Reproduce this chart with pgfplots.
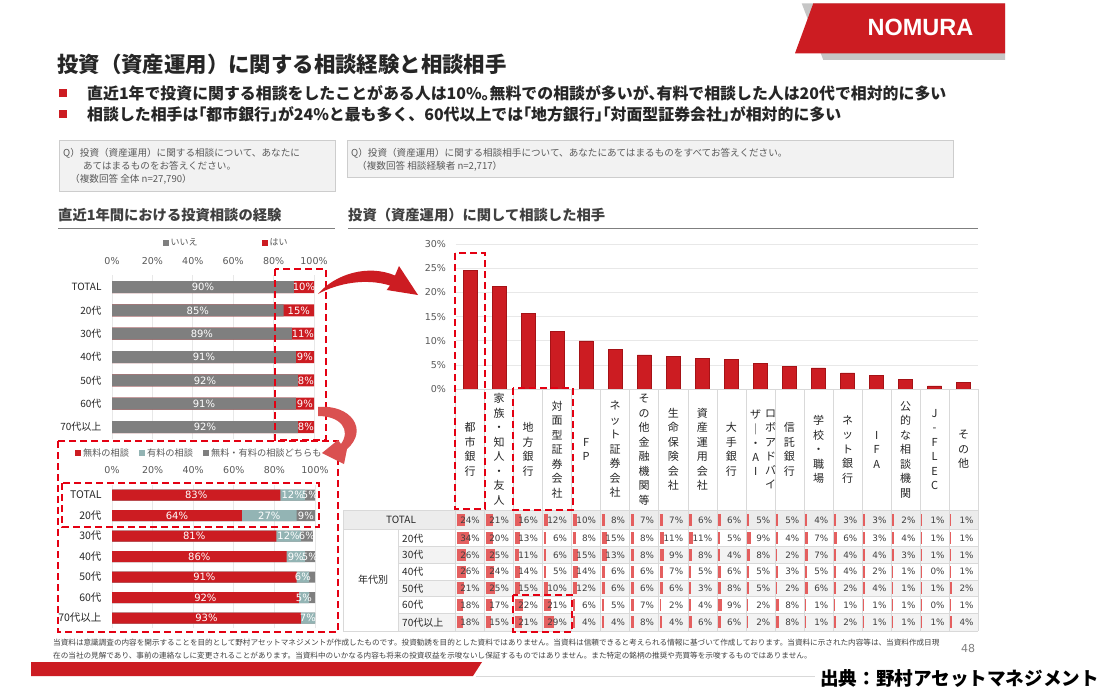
\documentclass[border=0pt]{standalone}
\usepackage{fontspec}
\setmainfont{Noto Sans CJK JP}
\newfontfamily\numfont{DejaVu Sans}
\newfontfamily\logofont{Liberation Sans}
\usepackage{pgfplots}
\pgfplotsset{compat=1.18}
\usepackage{pgfplotstable}

\definecolor{nred}{RGB}{204,28,34}
\definecolor{nredd}{RGB}{165,18,22}
\definecolor{ngray}{RGB}{127,127,127}
\definecolor{nteal}{RGB}{147,180,180}
\definecolor{txt}{RGB}{38,38,38}
\definecolor{txtg}{RGB}{89,89,89}
\definecolor{txth}{RGB}{64,64,64}
\definecolor{gridc}{RGB}{217,217,217}
\definecolor{gridl}{RGB}{232,232,232}
\definecolor{qbox}{RGB}{242,242,242}
\definecolor{qedge}{RGB}{205,205,205}
\definecolor{dashr}{RGB}{228,0,18}
\definecolor{cellbar}{RGB}{228,95,95}
\definecolor{band}{RGB}{243,243,243}
\definecolor{bandt}{RGB}{236,236,236}
\definecolor{arr2}{RGB}{218,80,80}

\newcommand\fs[2]{\fontsize{#1}{#2}\selectfont}
\newcommand\hw[1]{{\addfontfeatures{RawFeature=+halt}#1}}

% experience of consultation (いいえ / はい)
\pgfplotstableread{
iie hai
90 10
85 15
89 11
91 9
92 8
91 9
92 8
}\expdata

% free / paid / both
\pgfplotstableread{
free paid both
83 12 5
64 27 9
81 12 6
86 9 5
91 6 3
92 5 3
93 7 0
}\feedata

% consultation partner: bar value and table values
\pgfplotstableread{
val total a20 a30 a40 a50 a60 a70
24.5 24 34 26 26 21 18 18
21.3 21 20 25 24 25 17 15
15.6 16 13 11 14 15 22 21
11.9 12 6 6 5 10 21 29
10.0 10 8 15 14 12 6 4
8.3 8 15 13 6 6 5 4
7.1 7 8 8 6 6 7 8
6.8 7 11 9 7 6 2 4
6.4 6 11 8 5 3 4 6
6.2 6 5 4 6 8 9 6
5.4 5 9 8 5 5 2 2
4.7 5 4 2 3 2 8 8
4.4 4 7 7 5 6 1 1
3.4 3 6 4 4 2 1 2
2.8 3 3 4 2 4 1 1
2.1 2 4 3 1 1 1 1
0.7 1 1 1 0 1 0 1
1.4 1 1 1 1 2 1 4
}\contab

\newcommand\tabrow[2]{%
  \addplot[quiver={u=\thisrow{#1}*0.0114+0.028, v=0}, draw=cellbar, line width=12pt, mark=none]
    table[x expr=\coordindex-0.465, y expr=#2]{\contab};
  \addplot[only marks, mark=none, point meta=\thisrow{#1},
    nodes near coords={\pgfmathprintnumber{\pgfplotspointmeta}\%},
    every node near coord/.append style={anchor=east, inner sep=0pt, text=txth, font=\numfont\fs{8.8}{10}}]
    table[x expr=\coordindex+0.345, y expr=#2]{\contab};
}

\newcommand\cl[2]{\node[align=center, inner sep=0pt, font=\fs{11}{14.5}, text=txt] at (#1,-449.5) {#2};}

\begin{document}
\begin{tikzpicture}[x=1pt,y=1pt]
\fill[white] (0,0) rectangle (1097,-695);
\useasboundingbox (0,0) rectangle (1097,-695);

% ---------- logo ----------
\fill[gray!45] (801.7,-3.3) -- (1005,-3.3) -- (1005,-60) -- (823.3,-60) -- cycle;
\fill[nred] (813.3,-3.3) -- (1005,-3.3) -- (1005,-53.3) -- (795,-53.3) -- cycle;
\node[font=\logofont\bfseries\fs{23.5}{24}, text=white, inner sep=0pt] at (920.5,-27) {NOMURA};

% ---------- title and bullets ----------
\node[anchor=west, inner sep=0pt, font=\bfseries\fs{21.4}{24}, text=txt] at (57,-64) {投資（資産運用）に関する相談経験と相談相手};
\fill[nred] (59,-89.5) rectangle (67,-97.5);
\node[anchor=west, inner sep=0pt, font=\bfseries\fs{15.9}{18}, text=txt] at (87,-93.5) {直近1年で投資に関する相談をしたことがある人は10\%\hw{。}無料での相談が多いが\hw{、}有料で相談した人は20代で相対的に多い};
\fill[nred] (59,-110.5) rectangle (67,-118.5);
\node[anchor=west, inner sep=0pt, font=\bfseries\fs{15.9}{18}, text=txt] at (87,-114.5) {相談した相手は\hw{「}都市銀行\hw{」}が24\%と最も多く、60代以上では\hw{「}地方銀行\hw{」「}対面型証券会社\hw{」}が相対的に多い};

% ---------- question boxes ----------
\filldraw[fill=qbox, draw=qedge, line width=0.8pt] (59,-140) rectangle (335,-191);
\node[anchor=west, inner sep=0pt, font=\fs{9.6}{11}, text=txtg] at (63,-153) {Q）投資（資産運用）に関する相談について、あなたに};
\node[anchor=west, inner sep=0pt, font=\fs{9.6}{11}, text=txtg] at (83,-166) {あてはまるものをお答えください。};
\node[anchor=west, inner sep=0pt, font=\fs{9.6}{11}, text=txtg] at (70,-179) {（複数回答 全体 n=27,790）};
\filldraw[fill=qbox, draw=qedge, line width=0.8pt] (347,-140) rectangle (953,-177);
\node[anchor=west, inner sep=0pt, font=\fs{9.6}{11}, text=txtg] at (351,-153) {Q）投資（資産運用）に関する相談相手について、あなたにあてはまるものをすべてお答えください。};
\node[anchor=west, inner sep=0pt, font=\fs{9.6}{11}, text=txtg] at (357,-166) {（複数回答 相談経験者 n=2,717）};

% ---------- section headers ----------
\node[anchor=west, inner sep=0pt, font=\bfseries\fs{14.3}{16}, text=txth] at (58,-215) {直近1年間における投資相談の経験};
\draw[ngray, line width=1.8pt] (58,-228.5) -- (335,-228.5);
\node[anchor=west, inner sep=0pt, font=\bfseries\fs{14.3}{16}, text=txth] at (348,-215) {投資（資産運用）に関して相談した相手};
\draw[ngray, line width=1.8pt] (348,-228.5) -- (978,-228.5);

% ---------- chart 1 ----------
\begin{axis}[
  at={(112pt,-438.7pt)}, anchor=south west, scale only axis,
  width=202pt, height=163.3pt,
  xmin=0, xmax=100, ymin=-0.5, ymax=6.5,
  xtick={0,20,...,100}, xticklabel pos=upper,
  xticklabel={\pgfmathprintnumber{\tick}\%},
  xticklabel style={font=\numfont\fs{9.5}{11}, text=txtg, yshift=7pt},
  ytick={0,...,6}, yticklabels={70代以上,60代,50代,40代,30代,20代,TOTAL},
  yticklabel style={font=\fs{10}{12}, text=txt, xshift=-7pt},
  /pgf/number format/assume math mode=true,
  xmajorgrids, grid style={gridl, line width=0.8pt},
  axis line style={draw=none}, major tick length=0pt,
  clip=false, reverse legend, legend columns=2,
  legend style={at={(0.565,1.198)}, anchor=center, draw=none, fill=none,
    font=\fs{9}{10}, text=txtg, /tikz/every even column/.append style={column sep=62pt}},
  legend image code/.code={\fill[#1] (0pt,-3pt) rectangle (6pt,3pt);},
]
\addplot[xbar, bar shift=0pt, bar width=12pt, fill=nred, draw=none]
  table[x expr=\thisrow{iie}+\thisrow{hai}, y expr=6-\coordindex]{\expdata};
\addlegendentry{はい}
\addplot[xbar, bar shift=0pt, bar width=12pt, fill=ngray, draw=none]
  table[x=iie, y expr=6-\coordindex]{\expdata};
\addlegendentry{いいえ}
\addplot[forget plot, only marks, mark=none, point meta=\thisrow{iie},
  nodes near coords={\pgfmathprintnumber{\pgfplotspointmeta}\%},
  every node near coord/.append style={anchor=center, inner sep=0pt, text=white, font=\numfont\fs{10}{11}}]
  table[x expr=\thisrow{iie}/2, y expr=6-\coordindex]{\expdata};
\addplot[forget plot, only marks, mark=none, point meta=\thisrow{hai},
  nodes near coords={\pgfmathprintnumber{\pgfplotspointmeta}\%},
  every node near coord/.append style={anchor=center, inner sep=0pt, text=white, font=\numfont\fs{10}{11}}]
  table[x expr=\thisrow{iie}+\thisrow{hai}/2, y expr=6-\coordindex]{\expdata};
\end{axis}

% ---------- chart 2 ----------
\begin{axis}[
  at={(112pt,-628.25pt)}, anchor=south west, scale only axis,
  width=203pt, height=143.5pt,
  xmin=0, xmax=100, ymin=-0.5, ymax=6.5,
  xtick={0,20,...,100}, xticklabel pos=upper,
  xticklabel={\pgfmathprintnumber{\tick}\%},
  xticklabel style={font=\numfont\fs{9.5}{11}, text=txtg, yshift=8pt},
  ytick={0,...,6}, yticklabels={70代以上,60代,50代,40代,30代,20代,TOTAL},
  yticklabel style={font=\fs{10.5}{12}, text=txt, xshift=-7pt},
  /pgf/number format/assume math mode=true,
  xmajorgrids, grid style={gridl, line width=0.8pt},
  axis line style={draw=none}, major tick length=0pt,
  clip=false, reverse legend, legend columns=3,
  legend style={at={(0.43,1.221)}, anchor=center, draw=none, fill=none,
    font=\fs{9.2}{10}, text=txtg, /tikz/every even column/.append style={column sep=8pt}},
  legend image code/.code={\fill[#1] (0pt,-3pt) rectangle (6pt,3pt);},
]
\addplot[xbar, bar shift=0pt, bar width=11pt, fill=ngray, draw=none]
  table[x expr=\thisrow{free}+\thisrow{paid}+\thisrow{both}, y expr=6-\coordindex]{\feedata};
\addlegendentry{無料・有料の相談どちらも}
\addplot[xbar, bar shift=0pt, bar width=11pt, fill=nteal, draw=none]
  table[x expr=\thisrow{free}+\thisrow{paid}, y expr=6-\coordindex]{\feedata};
\addlegendentry{有料の相談}
\addplot[xbar, bar shift=0pt, bar width=11pt, fill=nred, draw=none]
  table[x=free, y expr=6-\coordindex]{\feedata};
\addlegendentry{無料の相談}
\addplot[forget plot, only marks, mark=none, point meta=\thisrow{free},
  nodes near coords={\pgfmathprintnumber{\pgfplotspointmeta}\%},
  every node near coord/.append style={anchor=center, inner sep=0pt, text=white, font=\numfont\fs{10}{11}}]
  table[x expr=\thisrow{free}/2, y expr=6-\coordindex]{\feedata};
\addplot[forget plot, only marks, mark=none, point meta=\thisrow{paid},
  nodes near coords={\pgfmathprintnumber{\pgfplotspointmeta}\%},
  every node near coord/.append style={anchor=center, inner sep=0pt, text=white, font=\numfont\fs{10}{11}}]
  table[x expr=\thisrow{free}+\thisrow{paid}/2, y expr=6-\coordindex]{\feedata};
\addplot[forget plot, only marks, mark=none, point meta=\thisrow{both}, skip coords between index={4}{7},
  nodes near coords={\pgfmathprintnumber{\pgfplotspointmeta}\%},
  every node near coord/.append style={anchor=center, inner sep=0pt, text=white, font=\numfont\fs{10}{11}}]
  table[x expr=\thisrow{free}+\thisrow{paid}+\thisrow{both}/2, y expr=6-\coordindex]{\feedata};
\end{axis}

% ---------- column chart ----------
\begin{axis}[
  at={(455.5pt,-389.3pt)}, anchor=south west, scale only axis,
  width=522.7pt, height=145.3pt,
  xmin=-0.5, xmax=17.5, ymin=0, ymax=30,
  ytick={0,5,...,30},
  yticklabel={\pgfmathprintnumber{\tick}\%},
  yticklabel style={font=\numfont\fs{9.5}{11}, text=txtg, xshift=-6pt},
  /pgf/number format/assume math mode=true,
  xtick=\empty,
  ymajorgrids, grid style={gridl, line width=0.9pt},
  axis line style={draw=none}, major tick length=0pt,
  clip=false,
]
\addplot[ybar, bar shift=0pt, bar width=14pt, fill=nred, draw=nredd, line width=0.5pt]
  table[x expr=\coordindex, y=val]{\contab};
\end{axis}

% ---------- table frame ----------
\fill[bandt] (343,-510.5) rectangle (978.2,-529.5);
\fill[band] (398,-546.5) rectangle (978.2,-563.3);
\fill[band] (398,-580) rectangle (978.2,-596.7);
\fill[band] (398,-613.5) rectangle (978.2,-631);
\foreach \k in {0,...,18} \draw[gridc, line width=0.6pt] ({455.5+29.04*\k},-389.3) -- ({455.5+29.04*\k},-631);
\draw[gridc, line width=0.6pt] (455.5,-389.3) -- (978.2,-389.3);
\foreach \yy in {510.5,529.5,631} \draw[gridc, line width=0.6pt] (343,-\yy) -- (978.2,-\yy);
\foreach \yy in {546.5,563.3,580,596.7,613.5} \draw[gridc, line width=0.6pt] (398,-\yy) -- (978.2,-\yy);
\draw[gridc, line width=0.6pt] (343,-510.5) -- (343,-631);
\draw[gridc, line width=0.6pt] (398,-529.5) -- (398,-631);

\node[font=\fs{10}{12}, text=txt, inner sep=0pt] at (401,-520) {TOTAL};
\node[font=\fs{10}{12}, text=txt, inner sep=0pt] at (373,-580) {年代別};
\node[anchor=west, font=\fs{10}{12}, text=txt, inner sep=0pt] at (402,-538.3) {20代};
\node[anchor=west, font=\fs{10}{12}, text=txt, inner sep=0pt] at (402,-555) {30代};
\node[anchor=west, font=\fs{10}{12}, text=txt, inner sep=0pt] at (402,-571.7) {40代};
\node[anchor=west, font=\fs{10}{12}, text=txt, inner sep=0pt] at (402,-588.3) {50代};
\node[anchor=west, font=\fs{10}{12}, text=txt, inner sep=0pt] at (402,-605) {60代};
\node[anchor=west, font=\fs{10}{12}, text=txt, inner sep=0pt] at (402,-622.3) {70代以上};

% category labels (vertical)
\cl{470.0}{都\\市\\銀\\行}
\cl{499.0}{家\\族\\・\\知\\人\\・\\友\\人}
\cl{528.1}{地\\方\\銀\\行}
\cl{557.1}{対\\面\\型\\証\\券\\会\\社}
\cl{586.2}{F\\P}
\cl{615.2}{ネ\\ッ\\ト\\証\\券\\会\\社}
\cl{644.2}{そ\\の\\他\\金\\融\\機\\関\\等}
\cl{673.3}{生\\命\\保\\険\\会\\社}
\cl{702.3}{資\\産\\運\\用\\会\\社}
\cl{731.4}{大\\手\\銀\\行}
\node[anchor=north, align=center, inner sep=0pt, font=\fs{11}{14.2}, text=txt] at (770.7,-410) {ロ\\ボ\\ア\\ド\\バ\\イ};
\node[anchor=north, align=center, inner sep=0pt, font=\fs{11}{14.2}, text=txt] at (755.7,-410) {ザ\\｜\\・\\A\\I};
\cl{789.4}{信\\託\\銀\\行}
\cl{818.5}{学\\校\\・\\職\\場}
\cl{847.5}{ネ\\ッ\\ト\\銀\\行}
\cl{876.6}{I\\F\\A}
\cl{905.6}{公\\的\\な\\相\\談\\機\\関}
\cl{934.6}{J\\-\\F\\L\\E\\C}
\cl{963.7}{そ\\の\\他}

% ---------- table data ----------
\begin{axis}[
  at={(455.5pt,-632pt)}, anchor=south west, scale only axis,
  width=522.7pt, height=242.7pt,
  xmin=-0.5, xmax=17.5, ymin=-632, ymax=-389.3,
  hide axis, clip=false,
  /pgf/number format/assume math mode=true,
]
\tabrow{total}{-520}
\tabrow{a20}{-538.3}
\tabrow{a30}{-555}
\tabrow{a40}{-571.7}
\tabrow{a50}{-588.3}
\tabrow{a60}{-605}
\tabrow{a70}{-622.3}
\end{axis}

% ---------- dashed highlight boxes ----------
\begin{scope}[dashr, line width=2pt, dash pattern=on 7pt off 4pt]
\draw (275,-269) rectangle (326,-440);
\draw (58,-441) rectangle (338,-632);
\draw (62,-483) rectangle (319,-527);
\draw (455,-253) rectangle (485,-509);
\draw (513,-388) rectangle (573,-510);
\draw (513,-595) rectangle (572,-632);
\end{scope}

% ---------- arrows ----------
\fill[nred] (318,-294) .. controls (335,-274) and (368,-264) .. (395,-275.5)
  -- (399,-266) -- (418,-295) -- (386.7,-290) -- (390,-285.5)
  .. controls (366,-278) and (338,-283) .. (318,-294) -- cycle;
\fill[arr2] (318,-407) .. controls (351,-404) and (369,-430) .. (347,-449)
  -- (344,-464) -- (322,-453) -- (338,-440) -- (341,-444)
  .. controls (351,-430) and (341,-416) .. (318,-416) -- cycle;

% ---------- footer ----------
\node[anchor=west, inner sep=0pt, font=\fs{7.6}{9}, text=txth] at (53,-643) {当資料は意識調査の内容を開示することを目的として野村アセットマネジメントが作成したものです。投資勧誘を目的とした資料ではありません。当資料は信頼できると考えられる情報に基づいて作成しております。当資料に示された内容等は、当資料作成日現};
\node[anchor=west, inner sep=0pt, font=\fs{7.6}{9}, text=txth] at (53,-655.5) {在の当社の見解であり、事前の連絡なしに変更されることがあります。当資料中のいかなる内容も将来の投資収益を示唆ないし保証するものではありません。また特定の銘柄の推奨や売買等を示唆するものではありません。};
\node[font=\numfont\fs{11}{12}, text=ngray, inner sep=0pt] at (968,-648) {48};
\fill[nred] (31,-662) -- (482,-662) -- (473,-676) -- (31,-676) -- cycle;
\draw[gridc, line width=0.8pt] (476,-676.5) -- (815,-676.5);
\node[anchor=west, inner sep=0pt, font=\bfseries\fs{18.6}{20}, text=black] at (820,-678) {出典：野村アセットマネジメント};
\end{tikzpicture}
\end{document}
